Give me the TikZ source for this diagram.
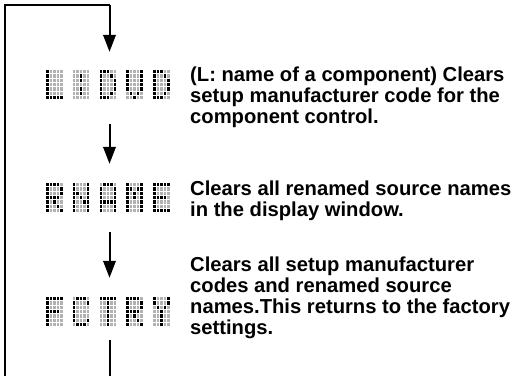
\documentclass[tikz,border=0pt]{standalone}
\usepackage{fontspec}
\setmainfont{Liberation Sans}
\usetikzlibrary{arrows.meta}
\definecolor{dmgray}{RGB}{178,178,178}
\newcommand\dmcell[2]{%
  \ifnum#2=1 \def\dmcol{black}\else\def\dmcol{dmgray}\fi
  \fill[\dmcol] ({\dmx+#1*3.5},{\dmy+\ri*4.3}) rectangle ++(2.7,3.4);}
\def\dmrow#1#2#3#4#5{\dmcell0#1\dmcell1#2\dmcell2#3\dmcell3#4\dmcell4#5}
\newcommand\dmglyph[3]{%
  \foreach \r [count=\ri from 0] in #3 {\def\dmx{#1}\def\dmy{#2}\expandafter\dmrow\r}}
\def\gL{10000,10000,10000,10000,10000,10000,11111}
\def\gColon{00000,00100,00100,00000,00100,00100,00000}
\def\gD{11100,10010,10001,10001,10001,10010,11100}
\def\gV{10001,10001,10001,10001,10001,01010,00100}
\def\gR{11110,10001,10001,11110,10100,10010,10001}
\def\gN{10001,10001,11001,10101,10011,10001,10001}
\def\gA{01110,10001,10001,10001,11111,10001,10001}
\def\gM{10001,11011,10101,10101,10001,10001,10001}
\def\gE{11111,10000,10000,11110,10000,10000,11111}
\def\gF{11111,10000,10000,11110,10000,10000,10000}
\def\gC{01110,10001,10000,10000,10000,10001,01110}
\def\gT{11111,00100,00100,00100,00100,00100,00100}
\def\gY{10001,10001,01010,00100,00100,00100,00100}
\newcommand\dmdisplay[7]{% x, y, five glyphs
  \dmglyph{#1}{#2}{#3}\dmglyph{#1+26.75}{#2}{#4}\dmglyph{#1+53.5}{#2}{#5}%
  \dmglyph{#1+80.25}{#2}{#6}\dmglyph{#1+107}{#2}{#7}}
\begin{document}
\begin{tikzpicture}[x=1pt,y=-1pt,
  line/.style={line width=2pt},
  arr/.style={line width=2pt,-{Triangle[width=12.5pt,length=17pt]}},
  disp/.style={inner sep=0pt,minimum width=124pt,minimum height=29pt},
  desc/.style={inner sep=0pt,anchor=north west,align=left,
    font=\fontsize{20.2}{21}\selectfont\bfseries}]
\useasboundingbox (0,0) rectangle (512,376);
% dot-matrix displays
\dmdisplay{46}{70}{\gL}{\gColon}{\gD}{\gV}{\gD}
\dmdisplay{46}{183}{\gR}{\gN}{\gA}{\gM}{\gE}
\dmdisplay{46}{297}{\gF}{\gC}{\gT}{\gR}{\gY}
\node[disp] (d1) at (108.5,84.5) {};
\node[disp] (d2) at (108.5,197.5) {};
\node[disp] (d3) at (108.5,311.5) {};
% connectors
\coordinate (bl) at (5,376);
\coordinate (tl) at (5,5);
\coordinate (tr) at (109.5,5);
\coordinate (end) at (109.5,376);
\draw[line] (bl) -- (tl) -- (tr);
\draw[arr,shorten >=18pt] (tr) -- (tr |- d1.north);
\draw[arr,shorten <=25pt,shorten >=19pt] (tr |- d1.south) -- (tr |- d2.north);
\draw[arr,shorten <=20pt,shorten >=19pt] (tr |- d2.south) -- (tr |- d3.north);
\draw[line,shorten <=14pt] (tr |- d3.south) -- (end);
% descriptions
\node[desc] (t1) at (190,67) {(L: name of a component) Clears\\setup manufacturer code for the\\component control.};
\node[desc] (t2) at (190,181) {Clears all renamed source names\\in the display window.};
\node[desc] (t3) at (190,257) {Clears all setup manufacturer\\codes and renamed source\\names.This returns to the factory\\settings.};
\end{tikzpicture}
\end{document}
